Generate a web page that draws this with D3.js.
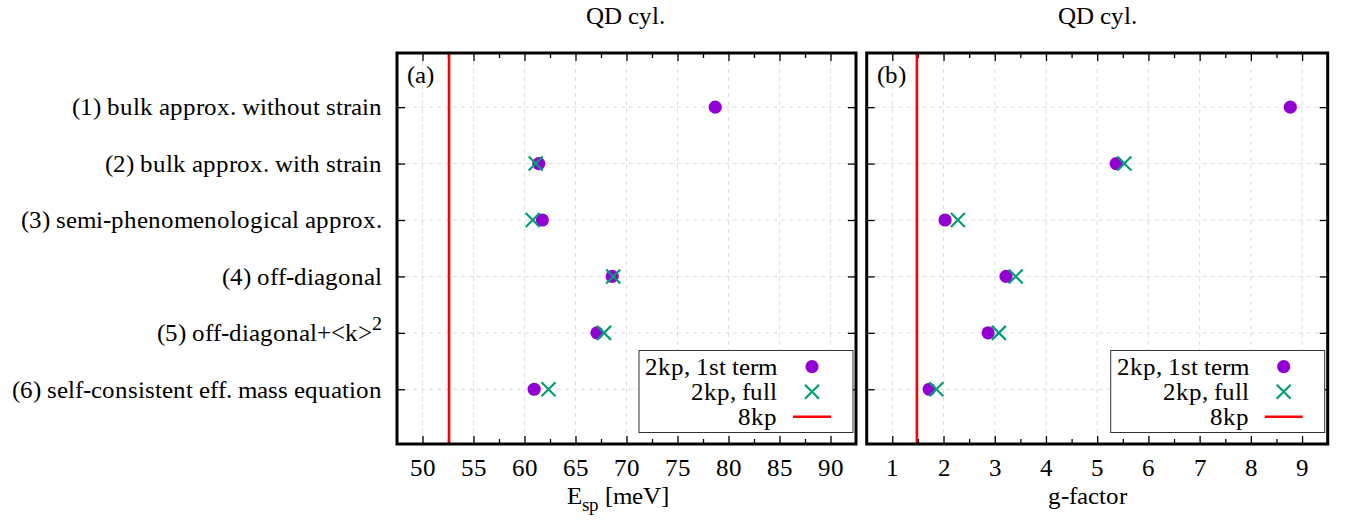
<!DOCTYPE html>
<html>
<head>
<meta charset="utf-8">
<script src="https://cdn.jsdelivr.net/npm/d3@7/dist/d3.min.js"></script>
<style>
  @font-face {
    font-family: "ChartSerif";
    src: local("Liberation Serif"), local("LiberationSerif"), local("LiberationSerif-Regular"),
         local("Tinos"), local("Tinos-Regular"), local("DejaVu Serif"), local("DejaVuSerif"),
         local("Noto Serif"), local("NotoSerif-Regular");
  }
  body { margin: 0; background: #fff; }
  svg text { font-family: "ChartSerif", "Liberation Serif", "DejaVu Serif", serif !important; fill: #000; }
</style>
</head>
<body>
<svg id="chart" width="1350" height="525"></svg>
<script>
// ---------- data ----------
const categories = [
  "(1) bulk approx. without strain",
  "(2) bulk approx. with strain",
  "(3) semi-phenomenological approx.",
  "(4) off-diagonal",
  "(5) off-diagonal+<k>",
  "(6) self-consistent eff. mass equation"
];
const rows = [1, 2, 3, 4, 5, 6];
const espFirstTerm = [78.7, 61.4, 61.75, 68.6, 67.1, 60.95];
const espFull      = [null, 61.1, 60.8, 68.7, 67.8, 62.35];
const esp8kp = 52.6;
const gFirstTerm = [8.77, 5.37, 2.03, 3.22, 2.87, 1.72];
const gFull      = [null, 5.53, 2.28, 3.41, 3.08, 1.86];
const g8kp = 1.48;
const espTicks = [50, 55, 60, 65, 70, 75, 80, 85, 90];
const gTicks = [1, 2, 3, 4, 5, 6, 7, 8, 9];
const legendLabels = ["2kp, 1st term", "2kp, full", "8kp"];

// ---------- style ----------
const FS = 25;
const FONT = '"ChartSerif", "Liberation Serif", "DejaVu Serif", serif';
const purple = "#9400d3", green = "#009e73", red = "#ff0000";
const svg = d3.select("#chart");
const yTop = 53, yBot = 444;
const y = d3.scaleLinear().domain([0.04, 6.97]).range([yTop, yBot]);

function panel(opts) {
  const {x0, x1, domain, ticks, minorStep, first, full, ref, title, label, xlabel, xlabelX, titleX} = opts;
  const x = d3.scaleLinear().domain(domain).range([x0, x1]);
  const g = svg.append("g");

  g.selectAll(".gx").data(ticks).join("line")
    .attr("x1", d => x(d)).attr("x2", d => x(d)).attr("y1", yTop).attr("y2", yBot)
    .attr("stroke", "#dcdcdc").attr("stroke-width", 1).attr("stroke-dasharray", "4,4");
  g.selectAll(".gy").data(rows).join("line")
    .attr("x1", x0).attr("x2", x1).attr("y1", d => y(d)).attr("y2", d => y(d))
    .attr("stroke", "#dcdcdc").attr("stroke-width", 1).attr("stroke-dasharray", "4,4");

  const minors = d3.range(domain[0], domain[1] + 1e-9, minorStep)
    .filter(v => v > domain[0] + 1e-9 && v < domain[1] - 1e-9 && !ticks.some(t => Math.abs(t - v) < 1e-9));
  const axB = g.append("g").attr("transform", `translate(0,${yBot})`)
    .call(d3.axisBottom(x).tickValues(ticks).tickSize(-8).tickPadding(14).tickFormat(d3.format("d")));
  axB.attr("font-family", FONT);
  axB.select(".domain").remove();
  axB.selectAll("text").attr("font-size", FS).attr("dy", "0.71em").attr("font-family", FONT);
  axB.selectAll("line").attr("stroke-width", 1.3);
  const axBm = g.append("g").attr("transform", `translate(0,${yBot})`)
    .call(d3.axisBottom(x).tickValues(minors).tickSize(-5).tickFormat(""));
  axBm.select(".domain").remove();
  axBm.selectAll("line").attr("stroke-width", 1.3);
  const axT = g.append("g").attr("transform", `translate(0,${yTop})`)
    .call(d3.axisTop(x).tickValues(ticks).tickSize(-8).tickFormat(""));
  axT.select(".domain").remove();
  axT.selectAll("line").attr("stroke-width", 1.3);
  const axTm = g.append("g").attr("transform", `translate(0,${yTop})`)
    .call(d3.axisTop(x).tickValues(minors).tickSize(-5).tickFormat(""));
  axTm.select(".domain").remove();
  axTm.selectAll("line").attr("stroke-width", 1.3);

  const axL = g.append("g").attr("transform", `translate(${x0},0)`)
    .call(d3.axisLeft(y).tickValues(rows).tickSize(-8).tickFormat(""));
  axL.select(".domain").remove();
  axL.selectAll("line").attr("stroke-width", 1.3);
  const axR = g.append("g").attr("transform", `translate(${x1},0)`)
    .call(d3.axisRight(y).tickValues(rows).tickSize(-8).tickFormat(""));
  axR.select(".domain").remove();
  axR.selectAll("line").attr("stroke-width", 1.3);

  g.append("line").attr("x1", x(ref)).attr("x2", x(ref)).attr("y1", yTop).attr("y2", yBot)
    .attr("stroke", red).attr("stroke-width", 2.6);

  g.selectAll(".c").data(first.map((v, i) => ({v, r: rows[i]})).filter(d => d.v != null)).join("circle")
    .attr("cx", d => x(d.v)).attr("cy", d => y(d.r)).attr("r", 6.6).attr("fill", purple);
  const s = 7;
  g.selectAll(".x").data(full.map((v, i) => ({v, r: rows[i]})).filter(d => d.v != null)).join("path")
    .attr("d", d => {
      const cx = x(d.v), cy = y(d.r);
      return `M${cx - s},${cy - s}L${cx + s},${cy + s}M${cx - s},${cy + s}L${cx + s},${cy - s}`;
    })
    .attr("stroke", green).attr("stroke-width", 2.2).attr("fill", "none");

  g.append("rect").attr("x", x0).attr("y", yTop).attr("width", x1 - x0).attr("height", yBot - yTop)
    .attr("fill", "none").attr("stroke", "#000").attr("stroke-width", 3);

  g.append("text").attr("x", x0 + 10).attr("y", 83).attr("font-size", FS).attr("font-family", FONT).text(label);
  g.append("text").attr("x", titleX).attr("y", 24).attr("text-anchor", "middle").attr("font-size", FS)
    .attr("font-family", FONT).text(title);

  xlabel(g, xlabelX);

  const lx0 = x1 - 217, ly0 = 350.5, lw = 214, lh = 82;
  g.append("rect").attr("x", lx0).attr("y", ly0).attr("width", lw).attr("height", lh)
    .attr("fill", "#fff").attr("stroke", "#333").attr("stroke-width", 1);
  const textR = lx0 + 138, symX = lx0 + 173;
  const rowY = [366.7, 391.7, 416.7];
  legendLabels.forEach((t, i) => {
    g.append("text").attr("x", textR).attr("y", rowY[i]).attr("dy", "0.33em")
      .attr("text-anchor", "end").attr("font-size", FS).attr("font-family", FONT).text(t);
  });
  g.append("circle").attr("cx", symX).attr("cy", rowY[0]).attr("r", 6.6).attr("fill", purple);
  g.append("path").attr("d", `M${symX - s},${rowY[1] - s}L${symX + s},${rowY[1] + s}M${symX - s},${rowY[1] + s}L${symX + s},${rowY[1] - s}`)
    .attr("stroke", green).attr("stroke-width", 2.2);
  g.append("line").attr("x1", symX - 19).attr("x2", symX + 19).attr("y1", rowY[2]).attr("y2", rowY[2])
    .attr("stroke", red).attr("stroke-width", 2.6);

  return x;
}

panel({
  x0: 397, x1: 856, domain: [47.5, 92.5], ticks: espTicks, minorStep: 2.5,
  first: espFirstTerm, full: espFull, ref: esp8kp, title: "QD cyl.", label: "(a)", titleX: 625,
  xlabelX: 618,
  xlabel: (g, cx) => {
    const t = g.append("text").attr("x", cx).attr("y", 504).attr("text-anchor", "middle")
      .attr("font-size", FS).attr("font-family", FONT);
    t.append("tspan").text("E");
    t.append("tspan").attr("font-size", 19).attr("dy", 7).text("sp");
    t.append("tspan").attr("dy", -7).text(" [meV]");
  }
});

panel({
  x0: 866.7, x1: 1327.7, domain: [0.5, 9.5], ticks: gTicks, minorStep: 0.5,
  first: gFirstTerm, full: gFull, ref: g8kp, title: "QD cyl.", label: "(b)", titleX: 1097,
  xlabelX: 1087.5,
  xlabel: (g, cx) => {
    g.append("text").attr("x", cx).attr("y", 504).attr("text-anchor", "middle").attr("font-size", FS)
      .attr("font-family", FONT).text("g-factor");
  }
});

const lab = svg.append("g");
categories.forEach((c, i) => {
  const t = lab.append("text").attr("x", 381.7).attr("y", y(rows[i])).attr("dy", "0.33em")
    .attr("text-anchor", "end").attr("font-size", FS).attr("font-family", FONT);
  t.append("tspan").text(c);
  if (i === 4) t.append("tspan").attr("font-size", 20).attr("dy", -11).text("2");
});
</script>
</body>
</html>
